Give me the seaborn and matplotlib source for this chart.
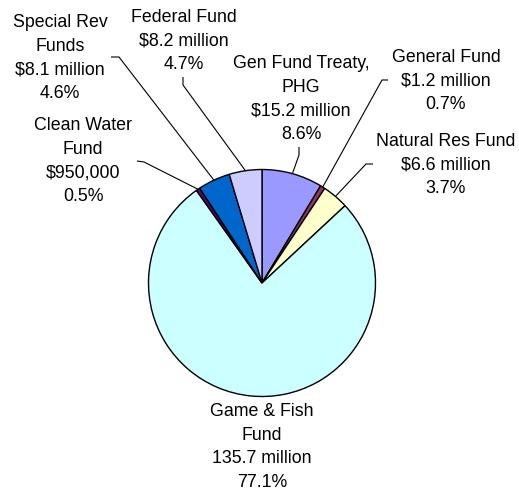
import numpy as np
import matplotlib
matplotlib.use("Agg")
import matplotlib.pyplot as plt
import seaborn as sns

# Funding sources, clockwise from 12 o'clock
sources = ["Gen Fund Treaty,\nPHG", "General Fund", "Natural Res Fund",
           "Game & Fish\nFund", "Clean Water\nFund", "Special Rev\nFunds",
           "Federal Fund"]
amounts = [15.2, 1.2, 6.6, 135.7, 0.95, 8.1, 8.2]          # $ millions
amount_text = ["$15.2 million", "$1.2 million", "$6.6 million",
               "135.7 million", "$950,000", "$8.1 million", "$8.2 million"]
percent_text = ["8.6%", "0.7%", "3.7%", "77.1%", "0.5%", "4.6%", "4.7%"]
colors = ["#9999FF", "#993366", "#FFFFCC", "#CCFFFF", "#660066", "#0066CC", "#CCCCFF"]

sns.set_theme(style="white")
plt.rcParams["font.family"] = ["Liberation Sans", "DejaVu Sans"]

W, H = 519, 496
fig = plt.figure(figsize=(W / 100, H / 100), dpi=100)
ax = fig.add_axes([0, 0, 1, 1])

cx, cy, r = 262, H - 283, 113.5
wedges, _ = ax.pie(amounts, colors=colors, startangle=90, counterclock=False,
                   center=(cx, cy), radius=r, frame=True,
                   wedgeprops=dict(edgecolor="black", linewidth=1.0))
ax.set_xlim(0, W)
ax.set_ylim(0, H)
ax.set_aspect("equal")
ax.axis("off")

# label block centres (x, y from top) and leader polylines (label end, elbow)
label_pos = [(301, 99), (446, 81), (446, 165), (262, 447),
             (83, 161), (60, 58), (184, 41)]
leaders = [((299, 147), (299, 155)), ((388, 80), (382, 80)),
           ((373, 164), (366, 164)), None,
           ((137, 161), (144, 162)), ((111, 57), (119, 57)),
           ((183, 77), (183, 85))]

for w, name, amt, pct, pos, lead in zip(wedges, sources, amount_text,
                                        percent_text, label_pos, leaders):
    ax.text(pos[0], H - pos[1], f"{name}\n{amt}\n{pct}", ha="center",
            va="center", fontsize=12.8, color="black", linespacing=1.5)
    if lead is None:
        continue
    mid = np.deg2rad((w.theta1 + w.theta2) / 2)
    ex, ey = cx + r * np.cos(mid), cy + r * np.sin(mid)
    (x0, y0), (x1, y1) = lead
    ax.plot([x0, x1, ex], [H - y0, H - y1, ey], color="black", lw=0.8,
            solid_capstyle="butt")

fig.savefig("out.png", dpi=100, facecolor="white")
